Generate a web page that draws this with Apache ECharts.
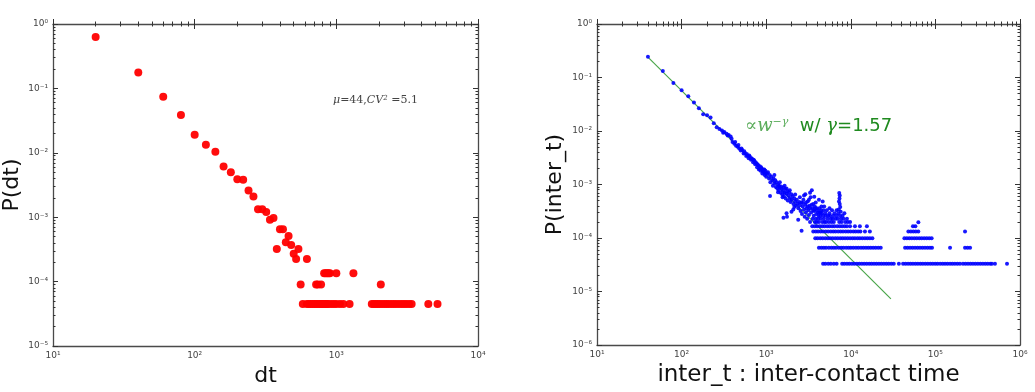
<!DOCTYPE html>
<html>
<head>
<meta charset="utf-8">
<script src="https://cdn.jsdelivr.net/npm/echarts@6/dist/echarts.min.js"></script>
<style>
html,body{margin:0;padding:0;background:#fff;}
#chart{width:1035px;height:392px;}
</style>
</head>
<body>
<div id="chart"></div>
<script>
// ---- left panel: P(dt) ----
var dtMain = [20,40,60,80,100,120,140,160,180,200,220,240,260,280,300,320,340,360,380,400,420,440,460,480,500,520,540,620];
var pdtMain = [0.63,0.176,0.0745,0.0386,0.0191,0.0133,0.0104,0.0061,0.0050,0.0039,0.0038,0.0026,0.0021,0.00133,0.00133,0.0012,0.00091,0.00097,0.00032,0.00065,0.00065,0.00041,0.00051,0.00037,0.00027,0.000225,0.00032,0.000225];
// flat tail: one level per count (1, 2, 3 events)
var dtLevels = [4.5e-5, 9.0e-5, 1.35e-4];
var dtBand1 = [580,620,640,660,680,700,720,740,760,780,800,820,840,860,880,920,960,1000,1060,1120,1240,1780,1840,1900,1960,2020,2100,2180,2260,2340,2440,2540,2640,2760,2880,3000,3120,3260,3400,4460,5180];
var dtBand2 = [560,720,740,780,2060];
var dtBand3 = [820,840,860,880,900,1000,1320];

// ---- right panel: P(inter_t) ----
var interCurve = [[40,0.245],[60,0.132],[80,0.079],[100,0.058],[120,0.0445],[140,0.034],[160,0.0265],[180,0.0206],[200,0.0198],[220,0.0178],[240,0.014],[260,0.0118],[280,0.0109],[300,0.0102],[320,0.0096],[340,0.0089],[360,0.0084],[380,0.0079],[400,0.0062],[420,0.0058],[440,0.0053],[460,0.0051],[480,0.0047],[500,0.0043],[520,0.0044],[540,0.0038],[560,0.0039],[580,0.0034],[600,0.0035],[620,0.0031],[640,0.0033],[660,0.0029],[680,0.003],[700,0.0026],[720,0.0028],[740,0.0024],[760,0.0025],[780,0.0021],[800,0.0023],[820,0.0019],[840,0.0022],[860,0.0018],[880,0.002],[900,0.0016],[920,0.0019],[940,0.0017],[960,0.0015],[980,0.0018],[1000,0.0014],[1020,0.0016],
  [310,0.0093],[350,0.0082],[390,0.0072],[430,0.0062],[470,0.0055],[510,0.0047],[550,0.0042],[590,0.0037],[630,0.0035],[670,0.0031],[710,0.0029],[750,0.0026],[790,0.0024],[830,0.002],[870,0.0021],[910,0.0018],[950,0.0019],[990,0.0016]];
var interCloud = [[1050,0.0017],[1080,0.0013],[1100,0.0015],[1120,0.0011],[1150,0.0014],[1180,0.0012],[1200,0.00095],[1220,0.0013],[1250,0.00105],[1280,0.0012],[1300,0.0009],[1320,0.0011],[1350,0.00085],[1380,0.001],[1400,0.00078],[1420,0.00095],[1450,0.00088],[1480,0.0007],[1500,0.00092],[1520,0.00082],[1550,0.00065],[1580,0.00076],[1600,0.00088],[1620,0.0006],[1650,0.0007],[1680,0.00082],[1700,0.00055],[1740,0.00068],[1780,0.00075],[1800,0.0005],[1820,0.00062],[1860,0.00072],[1900,0.00056],[1940,0.00047],[1980,0.00066],[2000,0.00052],[2050,0.0006],[2100,0.00043],[2150,0.00055],[2200,0.00048],[2250,0.0004],[2300,0.00052],[2350,0.00044],[2400,0.00036],[2450,0.00047],[2500,0.00041],
  [1250,0.0015],[1450,0.0011],[1650,0.00095],[1900,0.00078],[2200,0.00065],[2500,0.00058],[2800,0.00062],[1380,0.00072],[1560,0.00058],[2150,0.00038],[2700,0.00045],
  [1110,0.00061],[1600,0.00024],[1740,0.00029],[1760,0.00025],[1990,0.00031],[2090,0.00034],[2390,0.00022],[2620,0.000136],[1740,0.00084],[3460,0.00078],
  [2550,0.00032],[2600,0.00046],[2650,0.00028],[2700,0.00039],[2750,0.00052],[2800,0.00034],[2850,0.00025],[2900,0.00042],[2950,0.0003],[3000,0.00036],[3050,0.00023],[3100,0.00048],[3150,0.00033],[3200,0.00027],[3260,0.0004],[3300,0.0002],[3350,0.00058],[3400,0.0003],[3500,0.00036],[3550,0.00023],[3600,0.00043],[3650,0.00026],[3700,0.00032],[3760,0.0002],[3800,0.00036],[3860,0.00023],[3900,0.00028],[3960,0.0002],[4000,0.00033],[4100,0.00023],[4150,0.00026],[4200,0.0002],[4300,0.0003],[4400,0.00023],[4500,0.00039],[4650,0.00048],[4600,0.0002],[4700,0.00026],[4800,0.00023],[4900,0.0002],[5000,0.00029],[5100,0.0002],[5300,0.00023],[5500,0.0002],[5700,0.00026],[5900,0.0002],[6100,0.00023],[6300,0.0002],[6600,0.00023],[7800,0.0002],[8200,0.00023],[8600,0.0002],[9200,0.0002],[9800,0.0002],
  [4100,0.0003],[4250,0.00036],[4350,0.00026],[4450,0.00033],[4550,0.00029],[4750,0.00033],[4850,0.00039],[5050,0.00026],[5200,0.00033],[5400,0.00026],[5600,0.00029],[5800,0.00023],[6000,0.00033],[6200,0.00026],[6400,0.00029],[6800,0.00026],[7000,0.00023],[3300,0.00036],[3450,0.00042],[3600,0.00033],[3750,0.00039],[3850,0.00046],[3950,0.00036],[3100,0.00039],[2950,0.00046],[3200,0.00052],[8000,0.00026],[8400,0.00029],[9000,0.00023],[4400,0.0003],[5600,0.00036],[6800,0.00033],[3700,0.00059],[4200,0.00052],[2900,0.00066],[3300,0.0007]];
var interSpike = [[7300,0.00069],[7400,0.00062],[7350,0.00055],[7250,0.00048],[7400,0.00043],[7500,0.00038],[7200,0.00034],[7600,0.00031],[7100,0.00029],[7450,0.00026],[7650,0.00023],[7300,0.0002]];
var interLevels = [3.29e-5, 6.58e-5, 9.87e-5, 1.32e-4, 1.65e-4, 1.97e-4];
var interBand1 = [4700,5000,5400,5800,6300,6800,7900,8400,9000,9600,10300,11000,11800,12600,13500,14400,15400,16500,17600,18800,20100,21500,23000,24600,26300,28100,30100,32200,37000,41500,44400,47500,50800,54300,58100,62100,66400,71000,76000,81300,87000,93000,99500,106000,114000,122000,130000,139000,149000,159000,170000,182000,195000,212000,227000,243000,260000,278000,297000,318000,340000,364000,389000,416000,445000,466000,506000,702000];
var interBand2 = [4200,4500,4800,5100,5500,5900,6300,6700,7200,7700,8200,8800,9400,10000,10700,11500,12300,13200,14100,15100,16100,17200,18400,19700,21100,22600,43800,46900,50200,53700,57500,61500,65800,70400,75300,80600,86200,91200,149000,224000,240000,257000];
var interBand3 = [3800,4050,4350,4650,5000,5350,5700,6100,6550,7000,7500,8000,8550,9150,9800,10500,11200,12000,12800,13700,14700,15700,16800,18000,43000,46000,49200,52600,56300,60200,64400,68900,73700,78900,84400,90300];
var interBand4 = [3600,3850,4100,4400,4700,5050,5400,5800,6200,6600,7100,7600,8100,8700,9300,9950,10700,11400,12200,13000,14700,16800,47900,51300,54900,58700,62800,224000];
var interBand5 = [3500,3750,4000,4300,4600,4900,5250,5600,6000,6400,6900,7400,7900,8450,9000,9800,11200,12800,15500,54300,58000];
var interBand6 = [62900];
// fitted power law, end points
var fitLine = [[40,0.241],[29800,7.3e-6]];

function onLevel(ts, level) {
  return ts.map(function (t) { return [t, level]; });
}

var supMap = {'-':'\u207B','0':'\u2070','1':'\u00B9','2':'\u00B2','3':'\u00B3','4':'\u2074','5':'\u2075','6':'\u2076'};
function powLabel(v) {
  var e = Math.round(Math.log10(v));
  return '10' + String(e).split('').map(function (c) { return supMap[c]; }).join('');
}
// tick positions in exponent space (for the tick-only overlay axes)
function decadeTicks(lo, hi) {
  var out = [];
  for (var e = lo; e <= hi; e++) out.push(e);
  return out;
}
function minorTicks(lo, hi) {
  var out = [];
  for (var e = lo; e < hi; e++) {
    for (var k = 2; k <= 9; k++) out.push(e + Math.log10(k));
  }
  return out;
}

var frame = {show:true, onZero:false, lineStyle:{color:'#4a4a4a', width:1.3}};
var tickStyle = {color:'#333', width:1};
var nameFont = {fontFamily:'DejaVu Sans', fontSize:22, color:'#111'};

function tickAxis(grid, lo, hi, pos, values, len, line) {
  return {type:'value', gridIndex:grid, min:lo, max:hi, position:pos,
    axisLine: line ? frame : {show:false}, axisLabel:{show:false}, splitLine:{show:false},
    axisTick:{show:true, inside:true, length:len, lineStyle:tickStyle, customValues:values}};
}

function makeX(grid, lo, hi, name, nameSize) {
  return [
    {type:'log', logBase:10, gridIndex:grid, min:Math.pow(10, lo), max:Math.pow(10, hi), position:'bottom',
      name:name, nameLocation:'middle', nameGap:19,
      nameTextStyle:Object.assign({}, nameFont, {fontSize:nameSize}),
      axisLine:frame, axisTick:{show:false}, splitLine:{show:false},
      axisLabel:{formatter:powLabel, fontFamily:'DejaVu Sans', fontSize:9, color:'#444', margin:5}},
    tickAxis(grid, lo, hi, 'bottom', minorTicks(lo, hi), 2.5, false),
    tickAxis(grid, lo, hi, 'top', decadeTicks(lo, hi), 5, true),
    tickAxis(grid, lo, hi, 'top', minorTicks(lo, hi), 2.5, false),
    tickAxis(grid, lo, hi, 'bottom', decadeTicks(lo, hi), 5, false)
  ];
}
function makeY(grid, lo, hi, name, gap) {
  return [
    {type:'log', logBase:10, gridIndex:grid, min:Math.pow(10, lo), max:Math.pow(10, hi), position:'left',
      name:name, nameLocation:'middle', nameGap:gap, nameRotate:90, nameTextStyle:nameFont,
      axisLine:frame, axisTick:{show:false}, splitLine:{show:false},
      axisLabel:{formatter:powLabel, fontFamily:'DejaVu Sans', fontSize:9, color:'#444', margin:5}},
    tickAxis(grid, lo, hi, 'left', minorTicks(lo, hi), 2.5, false),
    tickAxis(grid, lo, hi, 'right', decadeTicks(lo, hi), 5, true),
    tickAxis(grid, lo, hi, 'right', minorTicks(lo, hi), 2.5, false),
    tickAxis(grid, lo, hi, 'left', decadeTicks(lo, hi), 5, false)
  ];
}

var leftData = dtMain.map(function (d, i) { return [d, pdtMain[i]]; })
  .concat(onLevel(dtBand1, dtLevels[0]), onLevel(dtBand2, dtLevels[1]), onLevel(dtBand3, dtLevels[2]));
var rightData = interCurve.concat(interCloud, interSpike,
  onLevel(interBand1, interLevels[0]), onLevel(interBand2, interLevels[1]), onLevel(interBand3, interLevels[2]),
  onLevel(interBand4, interLevels[3]), onLevel(interBand5, interLevels[4]), onLevel(interBand6, interLevels[5]));

// axis index 0 = left panel data axes, index 5 = right panel data axes
var xAxes = makeX(0, 1, 4, 'dt', 22).concat(makeX(1, 1, 6, 'inter_t : inter-contact time', 23));
var yAxes = makeY(0, -5, 0, 'P(dt)', 30).concat(makeY(1, -6, 0, 'P(inter_t)', 31));

var chart = echarts.init(document.getElementById('chart'), null, {renderer:'canvas'});
var option = {
  animation:false,
  backgroundColor:'#fff',
  grid:[
    {left:53, top:24, width:425, height:327},
    {left:597, top:24, width:423, height:327}
  ],
  xAxis: xAxes,
  yAxis: yAxes,
  series:[
    {type:'scatter', xAxisIndex:0, yAxisIndex:0, data:leftData, symbolSize:8,
      itemStyle:{color:'#ff0000', opacity:0.95}},
    {type:'line', xAxisIndex:5, yAxisIndex:5, data:fitLine, showSymbol:false, z:1,
      lineStyle:{color:'#4aa64a', width:1.2}},
    {type:'scatter', xAxisIndex:5, yAxisIndex:5, data:rightData, symbolSize:4, z:2,
      itemStyle:{color:'#0000ff', opacity:0.9}}
  ],
  graphic:[
    {type:'text', left:333, top:95, style:{
      text:'{i|\u03BC}{r|=44,}{i|CV}{s|2}{r| =5.1}',
      rich:{
        i:{fontFamily:'DejaVu Serif', fontStyle:'italic', fontSize:11, fill:'#444'},
        r:{fontFamily:'DejaVu Serif', fontSize:11, fill:'#444'},
        s:{fontFamily:'DejaVu Serif', fontStyle:'italic', fontSize:7, fill:'#444', verticalAlign:'top'}
      }}},
    {type:'text', left:745, top:117, style:{
      text:'{a|\u221Dw}{s|\u2212\u03B3}{b|  w/ }{g|\u03B3}{b|=1.57}',
      rich:{
        a:{fontFamily:'DejaVu Serif', fontStyle:'italic', fontSize:18, fill:'#5aac5a'},
        s:{fontFamily:'DejaVu Serif', fontStyle:'italic', fontSize:11, fill:'#5aac5a', verticalAlign:'top'},
        b:{fontFamily:'DejaVu Sans', fontSize:18, fill:'#1f8a1f'},
        g:{fontFamily:'DejaVu Serif', fontStyle:'italic', fontSize:18, fill:'#1f8a1f'}
      }}}
  ]
};
chart.setOption(option);
</script>
</body>
</html>
